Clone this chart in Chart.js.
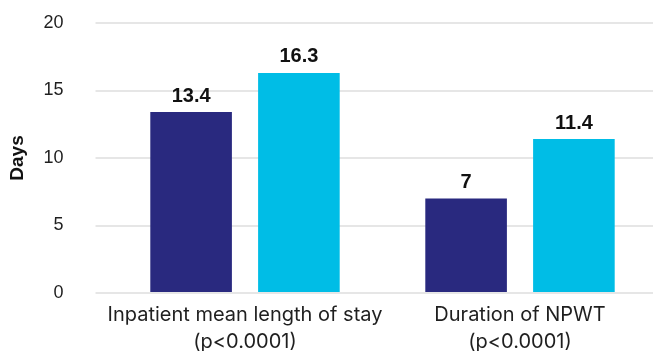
<!DOCTYPE html>
<html>
<head>
<meta charset="utf-8">
<script src="https://cdn.jsdelivr.net/npm/chart.js@4/dist/chart.umd.min.js"></script>
<style>
  html, body { margin: 0; padding: 0; background: #fff; overflow: hidden; }
  #wrap { position: absolute; left: 0; top: 0; width: 660px; height: 351px; }
</style>
</head>
<body>
<div id="wrap"><canvas id="c"></canvas></div>
<script>
// Length of stay and NPWT duration, two groups per measure
const categories = [
  ['Inpatient mean length of stay', '(p<0.0001)'],
  ['Duration of NPWT', '(p<0.0001)']
];
const seriesA = [13.4, 7];
const seriesB = [16.3, 11.4];
const yTicks = [0, 5, 10, 15, 20];

const NAVY = '#29297f';
const CYAN = '#00bde6';
const TEXT = '#1f1f1f';
const GRID = '#e6e6e6';

// Bold value printed above every bar
const valueLabels = {
  id: 'valueLabels',
  afterDatasetsDraw(chart) {
    const ctx = chart.ctx;
    ctx.save();
    ctx.font = 'bold 20px "Liberation Sans", Arial, sans-serif';
    ctx.fillStyle = '#111';
    ctx.textAlign = 'center';
    ctx.textBaseline = 'middle';
    chart.data.datasets.forEach((ds, i) => {
      chart.getDatasetMeta(i).data.forEach((bar, j) => {
        ctx.fillText(String(ds.data[j]), bar.x, bar.y - 16);
      });
    });
    ctx.restore();
  }
};

new Chart(document.getElementById('c'), {
  type: 'bar',
  data: {
    labels: categories,
    datasets: [
      { data: seriesA, backgroundColor: NAVY },
      { data: seriesB, backgroundColor: CYAN }
    ]
  },
  options: {
    responsive: true,
    maintainAspectRatio: false,
    animation: false,
    layout: { padding: { top: 23, right: 2.5, left: 0, bottom: 0 } },
    datasets: { bar: { categoryPercentage: 0.784, barPercentage: 0.757 } },
    plugins: { legend: { display: false }, tooltip: { enabled: false } },
    scales: {
      x: {
        grid: { display: false, drawTicks: false },
        border: { display: false },
        ticks: {
          color: TEXT,
          padding: 8.5,
          maxRotation: 0,
          autoSkip: false,
          font: { family: 'Inter, "Liberation Sans", sans-serif', size: 20, lineHeight: 1.35 }
        },
        afterFit(scale) { scale.height = 58; }
      },
      y: {
        min: 0,
        max: 20,
        afterBuildTicks(scale) { scale.ticks = yTicks.map(v => ({ value: v })); },
        border: { display: false },
        grid: { color: GRID, lineWidth: 2, drawTicks: true, tickLength: 12 },
        ticks: {
          color: TEXT,
          padding: 32,
          font: { family: '"Liberation Sans", Arial, sans-serif', size: 18 }
        },
        title: {
          display: true,
          text: 'Days',
          color: '#111',
          padding: { top: 6, bottom: 0 },
          font: { family: '"Liberation Sans", Arial, sans-serif', size: 19, weight: 'bold', lineHeight: 1.2 }
        },
        afterFit(scale) {
          scale.width = 107.5;
          // the plot area starts right at the layout padding
          scale.paddingTop = 0;
          scale.paddingBottom = 0;
        }
      }
    }
  },
  plugins: [valueLabels]
});
</script>
</body>
</html>
